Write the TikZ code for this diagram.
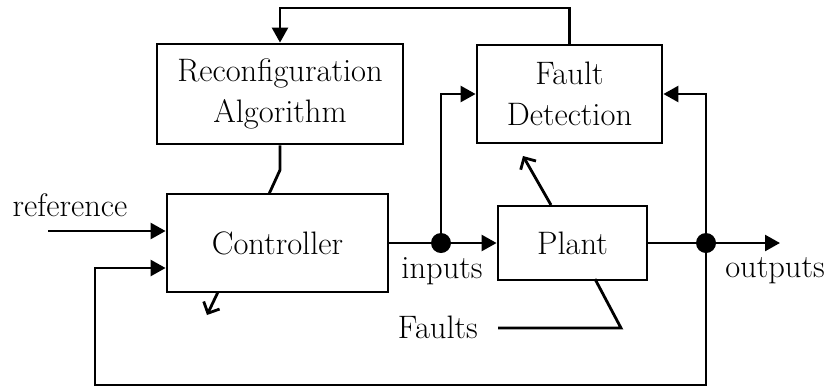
\documentclass[tikz,border=0pt]{standalone}
\usepackage{tikz}
\usetikzlibrary{arrows.meta,positioning,calc}

\tikzset{
  blockbox/.style={draw, line width=1.6pt, rectangle, align=center, inner sep=2pt},
  wire/.style={line width=1.6pt},
  tri/.style={-{Triangle[length=8.5pt,width=9pt]}},
  barb/.style={-{Straight Barb[length=5pt,width=10pt,line width=1.6pt]}},
  junction/.style={circle, fill=black, inner sep=0pt, minimum size=0.4cm},
}

\begin{document}
\begin{tikzpicture}[x=0.02cm, y=-0.02cm, every node/.style={font=\fontsize{18.5}{23}\selectfont}]

        \useasboundingbox (0,0) rectangle (828,390);

        % blocks
        \node[blockbox, minimum width=4.92cm, minimum height=2cm] (reconf) at (280,94) {Reconfiguration\\Algorithm};
        \node[blockbox, minimum width=3.7cm, minimum height=1.96cm] (fd) at (569.5,94) {Fault\\Detection};
        \node[blockbox, minimum width=4.42cm, minimum height=1.96cm] (ctrl) at (277.5,243) {Controller};
        \node[blockbox, minimum width=2.98cm, minimum height=1.48cm] (plant) at (572.5,243) {Plant};

        \node[junction] (in1) at (441,243) {};
        \node[junction] (out1) at (706,243) {};

        \coordinate (ref) at (48,231);
        \coordinate (outend) at (780,243);
        \coordinate (fb1) at (706,385);
        \coordinate (fb2) at (95,385);
        \coordinate (fb3) at (95,268);
        \coordinate (top1) at (569,8);
        \coordinate (bend) at (281,170);
        \coordinate (ctop) at (269,194);
        \coordinate (cbot) at (218,292);
        \coordinate (cbotend) at (207,315);
        \coordinate (ptop) at (551,205);
        \coordinate (ptopend) at (523,156);
        \coordinate (flt1) at (498,328);
        \coordinate (flt2) at (621,328);
        \coordinate (pbot) at (595,279);

        % labels
        \node (reflbl) at (70,205) {reference};
        \node (inlbl) at (442,271) {inputs};
        \node (outlbl) at (775,271) {outputs};
        \node[anchor=east] (fltlbl) at (484,327) {Faults};

        % signal paths
        \draw[wire, tri] (ref) -- (ref -| ctrl.west);
        \draw[wire] (ctrl.east |- in1) -- (in1);
        \draw[wire, tri] (in1) -- (plant.west |- in1);
        \draw[wire, tri] (in1) |- (fd.west);
        \draw[wire] (plant.east |- out1) -- (out1);
        \draw[wire, tri] (out1) -- (outend);
        \draw[wire, tri] (out1) |- (fd.east);
        \draw[wire, tri] (out1) -- (fb1) -- (fb2) -- (fb3) -- (fb3 -| ctrl.west);
        \draw[wire, tri] (fd.north) -- (fd.north |- top1) -| (reconf.north);
        \draw[wire] (reconf.south) -- (reconf.south |- bend) -- (ctop);

        % fault paths
        \draw[wire, barb] (cbot) -- (cbotend);
        \draw[wire, barb] (ptop) -- (ptopend);
        \draw[wire] (flt1) -- (flt2) -- (pbot);

    \end{tikzpicture}
\end{document}
